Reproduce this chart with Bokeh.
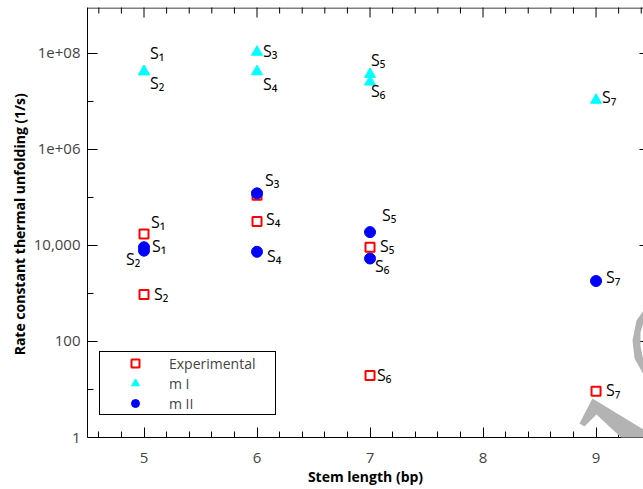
import math
from bokeh.plotting import figure
from bokeh.models import (Range1d, FixedTicker, Legend, LegendItem, ColumnDataSource,
                          PolyAnnotation, Span)
from bokeh.core.properties import value
from bokeh.embed import file_html
from bokeh.resources import INLINE

# ---------------- data ----------------
stem_length = [5, 5, 6, 6, 7, 7, 9]
stem_names = ["S₁", "S₂", "S₃", "S₄", "S₅", "S₆", "S₇"]
experimental = [17400, 950, 112000, 31600, 9200, 19.6, 9.2]
m_I = [4.2e7, 4.2e7, 1.07e8, 4.2e7, 3.7e7, 2.56e7, 1.07e7]
m_II = [9200, 7800, 122000, 7400, 19000, 5350, 1820]

x_ticks = [5, 6, 7, 8, 9]
x_minor_ticks = [4.6, 4.8, 5.2, 5.4, 5.6, 5.8, 6.2, 6.4, 6.6, 6.8, 7.2, 7.4, 7.6, 7.8,
                 8.2, 8.4, 8.6, 8.8, 9.2, 9.4]
y_ticks = [1, 100, 10000, 1e6, 1e8]
y_tick_labels = ["1", "100", "10,000", "1e+06", "1e+08"]
y_minor_ticks = [10, 1000, 1e5, 1e7]

# label offsets (screen px) for each point's name
exp_offsets = [(7, -12), (10, -1), None, (9, -3), (10, -1), (7, 0), (10, -1)]
mI_offsets = [(6, -19), (6, 11), (6, -1), (6, 12), (1, -14), (1, 9), (6, -3)]
mII_offsets = [(8, -1), (-18, 8), (8, -13), (10, 4), (12, -17), (5, 7), (10, -4)]

FONT = "Open Sans"
X0, X1 = 4.5, 9.42
Y0, Y1 = 1, 9.08e8
FRAME_H = 430.0  # px, used only to place the top border line on a crisp pixel row

p = figure(width=643, height=489, x_range=Range1d(X0, X1), y_range=Range1d(Y0, Y1),
           y_axis_type="log", output_backend="svg", toolbar_location=None,
           min_border_left=87, min_border_right=0, min_border_top=7, min_border_bottom=52)
p.outline_line_color = None
p.xgrid.visible = False
p.ygrid.visible = False
p.background_fill_color = "white"

def style_axis(ax):
    ax.axis_line_color = "black"
    ax.axis_line_width = 1
    ax.major_tick_in = 10
    ax.major_tick_out = 0
    ax.minor_tick_in = 6
    ax.minor_tick_out = 0
    ax.major_tick_line_color = "black"
    ax.minor_tick_line_color = "black"
    ax.major_label_text_font = FONT
    ax.major_label_text_font_size = "15px"
    ax.major_label_text_color = "#444444"
    ax.axis_label_text_font = FONT
    ax.axis_label_text_font_style = "bold"
    ax.axis_label_text_font_size = "14px"
    ax.axis_label_text_color = "black"

xa = p.xaxis[0]
xa.ticker = FixedTicker(ticks=x_ticks, minor_ticks=x_minor_ticks)
style_axis(xa)
xa.axis_label = "Stem length (bp)"
xa.major_label_standoff = 15
xa.axis_label_standoff = 1

ya = p.yaxis[0]
ya.ticker = FixedTicker(ticks=y_ticks, minor_ticks=y_minor_ticks)
style_axis(ya)
ya.axis_label = "Rate constant thermal unfolding  (1/s)"
ya.major_label_overrides = {t: s for t, s in zip(y_ticks, y_tick_labels)}
ya.major_label_standoff = 7
ya.axis_label_standoff = 2

# top border of the frame (no right border: the reference is cut off there)
top_loc = 10 ** (math.log10(Y1) * (FRAME_H - 0.5) / FRAME_H)
p.add_layout(Span(location=top_loc, dimension="width", line_color="black", line_width=1))

# mirrored tick marks on the top and right frame edges (half of each dash is inside)
p.scatter(x_ticks, [Y1] * len(x_ticks), marker="dash", angle=math.pi / 2, size=20,
          line_color="black", line_width=1)
p.scatter(x_minor_ticks, [Y1] * len(x_minor_ticks), marker="dash", angle=math.pi / 2,
          size=12, line_color="black", line_width=1)
p.scatter([X1] * len(y_ticks), y_ticks, marker="dash", size=8, line_color="black",
          line_width=1)

# ---------------- marks ----------------
r_exp = p.scatter(stem_length, experimental, marker="square", size=9, line_color="#ff0000",
                  line_width=2, fill_color="white")
r_m1 = p.scatter(stem_length, m_I, marker="triangle", size=11, line_color="#00ffff",
                 fill_color="#00ffff")
r_m2 = p.scatter(stem_length, m_II, marker="circle", size=11, line_color="#0000ff",
                 fill_color="#0000ff")

def label_source(values, offsets):
    xs, ys, ts, dx, dy = [], [], [], [], []
    for x, y, t, o in zip(stem_length, values, stem_names, offsets):
        if o is None:
            continue
        xs.append(x); ys.append(y); ts.append(t); dx.append(o[0]); dy.append(o[1])
    return ColumnDataSource(dict(x=xs, y=ys, text=ts, dx=dx, dy=dy))

for vals, offs in [(experimental, exp_offsets), (m_I, mI_offsets), (m_II, mII_offsets)]:
    p.text(x="x", y="y", text="text", x_offset="dx", y_offset="dy",
           source=label_source(vals, offs), text_font=value(FONT), text_font_size="16px",
           text_color="black", text_align="left", text_baseline="middle")

legend = Legend(items=[LegendItem(label="Experimental", renderers=[r_exp]),
                       LegendItem(label="m I", renderers=[r_m1]),
                       LegendItem(label="m II", renderers=[r_m2])],
                location=(12, 22), border_line_color="black", border_line_width=1,
                border_line_alpha=1, padding=1, spacing=0, glyph_width=68, glyph_height=20,
                label_height=20, label_width=105, label_standoff=0, margin=0,
                label_text_font=FONT, label_text_font_size="14px",
                background_fill_color="white", background_fill_alpha=1)
p.add_layout(legend)

# ---------------- watermark (decorative grey strokes) ----------------
FL, FR, FT, FB = 87.5, 643.0, 7.0, 437.0
def to_data(pts):
    xs = [X0 + (px - FL) / (FR - FL) * (X1 - X0) for px, py in pts]
    ys = [10 ** ((FB - py) / (FB - FT) * math.log10(Y1 / Y0)) for px, py in pts]
    return xs, ys

wm_shapes = [
    [(579, 423), (592, 398), (643, 429), (643, 458), (596, 414), (584, 426)],
    [(643, 310), (636, 320), (632, 340), (634, 358), (643, 374), (643, 360), (640, 346),
     (640, 332), (643, 322)],
]
for shp in wm_shapes:
    xs, ys = to_data(shp)
    p.add_layout(PolyAnnotation(xs=xs, ys=ys, fill_color="#b3b3b3", fill_alpha=1,
                                line_color=None, level="overlay"))

open("out.html", "w").write(file_html(p, INLINE))
